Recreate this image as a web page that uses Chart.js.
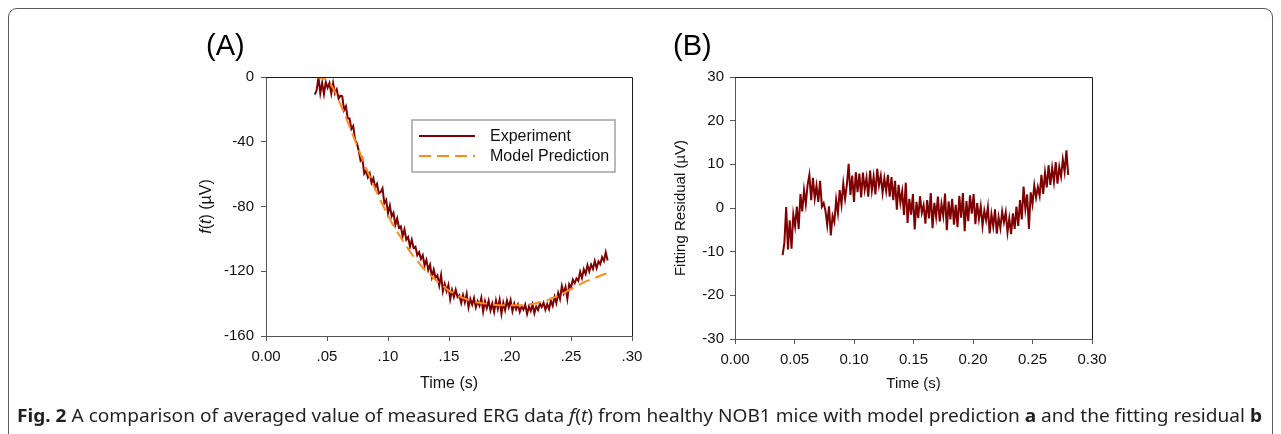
<!DOCTYPE html>
<html><head><meta charset="utf-8">
<script src="https://cdn.jsdelivr.net/npm/chart.js"></script>
<style>
html,body{margin:0;padding:0;background:#fff;width:1281px;height:434px;overflow:hidden;}
#frame{position:absolute;left:8px;top:8px;width:1265px;height:470px;border:1px solid #5a5a5a;border-radius:9px;box-sizing:border-box;}
#boxA{position:absolute;left:150px;top:0;width:500px;height:410px;}
#boxB{position:absolute;left:650px;top:0;width:460px;height:410px;}
#cap{position:absolute;left:17px;top:405px;font-family:'Noto Sans',sans-serif;font-size:18px;line-height:20px;color:#231f20;white-space:nowrap;transform-origin:0 0;}
</style></head>
<body>
<div id="frame"></div>
<div id="boxA"><canvas id="cA" width="500" height="410"></canvas></div>
<div id="boxB"><canvas id="cB" width="460" height="410"></canvas></div>
<div id="cap"><b>Fig. 2</b> A comparison of averaged value of measured ERG data <i>f</i>(<i>t</i>) from healthy NOB1 mice with model prediction <b>a</b> and the fitting residual <b>b</b></div>
<script>
// ---- data ----
const SAMPLE_START = 0.040;   // s
const SAMPLE_STEP = 0.0015;   // s
const MODEL_START = 0.040;
const MODEL_STEP = 0.005;

const EXPERIMENT = [
-10.8,-8.2,-0.1,-10.0,-3.6,-10.6,-3.2,-6.7,-3.7,-10.3,
-3.8,-10.2,-7.7,-13.3,-11.5,-11.9,-20.4,-18.1,-25.6,-25.6,
-32.1,-30.2,-38.9,-40.9,-45.5,-51.7,-50.2,-59.7,-57.9,-62.0,
-59.6,-65.3,-62.5,-68.4,-66.0,-71.9,-71.1,-68.7,-78.0,-75.9,
-84.1,-79.4,-86.1,-83.9,-91.3,-87.4,-93.1,-92.2,-98.3,-94.1,
-100.5,-98.9,-104.7,-100.5,-105.7,-104.9,-110.1,-108.2,-112.4,-110.1,
-116.4,-113.0,-119.3,-116.0,-123.6,-119.0,-124.1,-122.5,-128.8,-122.3,
-132.4,-127.8,-132.3,-128.5,-137.3,-131.6,-135.9,-131.5,-135.9,-134.8,
-139.6,-134.7,-139.3,-134.0,-142.4,-137.1,-140.7,-136.5,-142.3,-138.5,
-141.3,-136.4,-144.9,-138.5,-142.7,-138.2,-144.2,-139.9,-145.1,-138.1,
-143.2,-137.6,-146.3,-139.4,-144.0,-138.1,-142.3,-137.8,-144.7,-139.9,
-143.5,-140.6,-145.1,-141.6,-143.7,-140.6,-146.4,-141.9,-144.5,-140.5,
-145.9,-141.8,-144.0,-139.9,-142.1,-139.5,-143.8,-140.3,-143.4,-138.2,
-141.3,-135.8,-139.7,-133.4,-137.2,-129.1,-133.6,-129.7,-137.0,-128.0,
-130.1,-125.2,-127.4,-124.4,-125.8,-120.4,-124.2,-118.8,-121.7,-116.2,
-120.2,-115.9,-118.6,-113.7,-118.1,-113.9,-115.6,-111.3,-113.6,-108.3,
-113.4
];

const MODEL = [
0,-0.5,-2,-7,-15,-24,-33.5,-43,-52.5,-61.5,
-70,-78,-85.5,-92.5,-98.5,-104.5,-110,-114.5,-119,-122.5,
-126,-129,-132,-134,-136,-137.5,-139,-139.5,-140,-140.5,
-141,-141,-141,-141,-141,-140.5,-140,-139,-138,-136.5,
-135,-133,-131,-129,-127,-125.5,-124,-122.5,-121
];

const RESIDUAL = [
-10.8,-8.0,0.2,-9.5,-2.8,-9.3,-1.5,-4.2,0.3,-4.8,
3.2,-0.8,4.1,0.9,5.3,7.6,1.8,6.9,2.2,5.1,
1.4,6.2,0.3,1.1,-0.6,-3.9,0.4,-6.3,-1.8,-3.2,
1.9,-1.2,4.1,0.8,5.6,2.1,5.3,10.1,3.0,7.4,
1.4,8.2,3.6,7.9,2.4,8.1,4.2,6.9,2.6,8.6,
4.0,7.2,3.1,9.0,5.2,7.4,3.5,6.8,3.9,7.6,
2.6,7.1,1.8,6.2,-0.4,5.3,1.2,3.8,-1.6,5.8,
-3.4,2.1,-1.5,3.2,-4.9,1.4,-2.3,2.7,-1.1,0.6,
-3.6,1.8,-2.4,3.4,-4.6,1.2,-2.0,2.6,-3.1,0.9,
-1.8,3.3,-5.1,1.5,-2.6,2.1,-3.8,0.7,-4.4,2.8,
-2.2,3.4,-5.3,1.6,-3.0,2.9,-1.3,3.2,-3.7,1.1,
-2.5,0.4,-4.1,-0.6,-2.8,0.2,-5.8,-1.4,-4.2,-0.3,
-5.9,-2.1,-4.6,-0.8,-3.3,-1.0,-5.6,-2.4,-6.0,-1.2,
-4.8,0.3,-4.1,1.8,-2.6,4.9,-0.2,3.1,-4.8,3.6,
0.9,5.2,2.4,4.8,2.8,7.6,3.2,8.1,4.7,9.8,
5.3,9.2,6.0,10.5,5.6,9.4,7.2,11.1,8.3,13.2,
7.6
];

const X_TICKS = [0, 0.05, 0.10, 0.15, 0.20, 0.25, 0.30];
const A_X_LABELS = ['0.00', '.05', '.10', '.15', '.20', '.25', '.30'];
const B_X_LABELS = ['0.00', '0.05', '0.10', '0.15', '0.20', '0.25', '0.30'];
const A_Y_TICKS = [-160, -120, -80, -40, 0];
const A_Y_LABELS = ['-160', '-120', '-80', '-40', '0'];
const B_Y_TICKS = [-30, -20, -10, 0, 10, 20, 30];
const B_Y_LABELS = ['-30', '-20', '-10', '0', '10', '20', '30'];
const SERIES_NAMES = ['Experiment', 'Model Prediction'];

// ---- helpers ----
const toPoints = (vals, start, step) => vals.map((v, i) => ({ x: +(start + i * step).toFixed(5), y: v }));
const RED = '#7f0000', ORANGE = '#ff8c1a', AXIS = '#555', TXT = '#111';
const FONT = "'Liberation Sans', Arial, Helvetica, sans-serif";
Chart.defaults.font.family = FONT;
Chart.defaults.color = TXT;

const framePlugin = {
  id: 'frameDeco',
  afterDraw(chart, args, o) {
    const { ctx, chartArea: { left, right, top, bottom } } = chart;
    ctx.save();
    ctx.strokeStyle = '#1a1a1a'; ctx.lineWidth = 1;
    ctx.beginPath();
    ctx.moveTo(left, top + 0.5); ctx.lineTo(right + 0.5, top + 0.5); ctx.lineTo(right + 0.5, bottom);
    ctx.stroke();
    ctx.fillStyle = '#000';
    ctx.font = o.labelSize + 'px ' + FONT;
    ctx.textBaseline = 'alphabetic'; ctx.textAlign = 'left';
    ctx.fillText(o.label, o.labelX, o.labelY);
    ctx.restore();
  }
};

const legendAPlugin = {
  id: 'legendA',
  afterDraw(chart, args, o) {
    if (!o.show) return;
    const ctx = chart.ctx;
    ctx.save();
    ctx.strokeStyle = '#a3a3a3'; ctx.lineWidth = 1.5;
    ctx.strokeRect(o.x, o.y, o.w, o.h);
    ctx.font = '16px ' + FONT; ctx.fillStyle = TXT; ctx.textBaseline = 'middle';
    const ds = chart.data.datasets;
    ds.forEach((d, i) => {
      const yy = o.y + o.row0 + i * o.rowGap;
      ctx.strokeStyle = d.borderColor; ctx.lineWidth = 2;
      ctx.setLineDash(d.borderDash || []);
      ctx.beginPath(); ctx.moveTo(o.x + 7, yy); ctx.lineTo(o.x + 63, yy); ctx.stroke();
      ctx.setLineDash([]);
      ctx.fillText(d.label, o.x + 78, yy + 0.5);
    });
    ctx.restore();
  }
};

const yTitleAPlugin = {
  id: 'yTitleA',
  afterDraw(chart, args, o) {
    if (!o.show) return;
    const ctx = chart.ctx;
    const cy = (chart.chartArea.top + chart.chartArea.bottom) / 2;
    const parts = [['italic ', 'f'], ['', '('], ['italic ', 't'], ['', ') (µV)']];
    ctx.save();
    ctx.translate(o.x, cy);
    ctx.rotate(-Math.PI / 2);
    ctx.fillStyle = TXT; ctx.textBaseline = 'middle'; ctx.textAlign = 'left';
    let total = 0;
    parts.forEach(p => { ctx.font = p[0] + '16px ' + FONT; total += ctx.measureText(p[1]).width; });
    let x = -total / 2;
    parts.forEach(p => { ctx.font = p[0] + '16px ' + FONT; ctx.fillText(p[1], x, 0); x += ctx.measureText(p[1]).width; });
    ctx.restore();
  }
};

function axisX(labels, xH, titleSize) {
  return {
    type: 'linear', min: 0, max: 0.3,
    afterBuildTicks: s => { s.ticks = X_TICKS.map(v => ({ value: v })); },
    afterFit: s => { s.height = xH; s.paddingLeft = 0; s.paddingRight = 0; },
    ticks: { callback: (v, i) => labels[i], font: { size: 15 }, color: TXT, padding: 7, maxRotation: 0, autoSkip: false },
    grid: { drawOnChartArea: false, drawTicks: true, tickLength: 5, color: AXIS },
    border: { display: true, color: AXIS },
    title: { display: true, text: 'Time (s)', font: { size: titleSize }, color: TXT, padding: 0 }
  };
}
function axisY(ticks, labels, min, max, w, pad, title) {
  return {
    type: 'linear', min: min, max: max,
    afterBuildTicks: s => { s.ticks = ticks.map(v => ({ value: v })); },
    afterFit: s => { s.width = w; s.paddingTop = 0; s.paddingBottom = 0; },
    ticks: { callback: (v, i) => labels[i], font: { size: 15 }, color: TXT, padding: pad, autoSkip: false },
    grid: { drawOnChartArea: false, drawTicks: true, tickLength: 5, color: AXIS },
    border: { display: true, color: AXIS },
    title: title ? { display: true, text: title, font: { size: 15 }, color: TXT, padding: 0 } : { display: false }
  };
}

const common = {
  responsive: false, animation: false, devicePixelRatio: 1,
  events: [],
};

new Chart(document.getElementById('cA'), {
  type: 'line',
  data: {
    datasets: [
      { label: SERIES_NAMES[0], data: toPoints(EXPERIMENT, SAMPLE_START, SAMPLE_STEP), borderColor: RED, borderWidth: 2, pointRadius: 0, tension: 0, order: 2 },
      { label: SERIES_NAMES[1], data: toPoints(MODEL, MODEL_START, MODEL_STEP), borderColor: ORANGE, borderWidth: 2, borderDash: [12, 6], pointRadius: 0, cubicInterpolationMode: 'monotone', order: 1 }
    ]
  },
  options: Object.assign({}, common, {
    layout: { padding: { left: 0, right: 18, top: 77, bottom: 16.4 } },
    scales: {
      x: axisX(A_X_LABELS, 57.6, 16),
      y: axisY(A_Y_TICKS, A_Y_LABELS, -160, 0, 116, 7, null)
    },
    plugins: {
      legend: { display: false }, tooltip: { enabled: false },
      frameDeco: { label: '(A)', labelX: 56, labelY: 55, labelSize: 29 },
      legendA: { show: true, x: 262, y: 120, w: 203, h: 52, row0: 16, rowGap: 20 },
      yTitleA: { show: true, x: 57 }
    }
  }),
  plugins: [framePlugin, legendAPlugin, yTitleAPlugin]
});

new Chart(document.getElementById('cB'), {
  type: 'line',
  data: {
    datasets: [
      { label: 'Fitting Residual', data: toPoints(RESIDUAL, SAMPLE_START, SAMPLE_STEP), borderColor: RED, borderWidth: 2, pointRadius: 0, tension: 0 }
    ]
  },
  options: Object.assign({}, common, {
    layout: { padding: { left: 22, right: 18, top: 77, bottom: 17 } },
    scales: {
      x: axisX(B_X_LABELS, 54, 15),
      y: axisY(B_Y_TICKS, B_Y_LABELS, -30, 30, 63, 6, 'Fitting Residual (µV)')
    },
    plugins: {
      legend: { display: false }, tooltip: { enabled: false },
      frameDeco: { label: '(B)', labelX: 23, labelY: 55, labelSize: 29 }
    }
  }),
  plugins: [framePlugin]
});

// fit caption to its measured span
(function fitCaption() {
  const cap = document.getElementById('cap');
  const target = 1245;
  const w = cap.getBoundingClientRect().width;
  if (w > 0) cap.style.transform = 'scaleX(' + (target / w) + ')';
})();
</script>
</body></html>
